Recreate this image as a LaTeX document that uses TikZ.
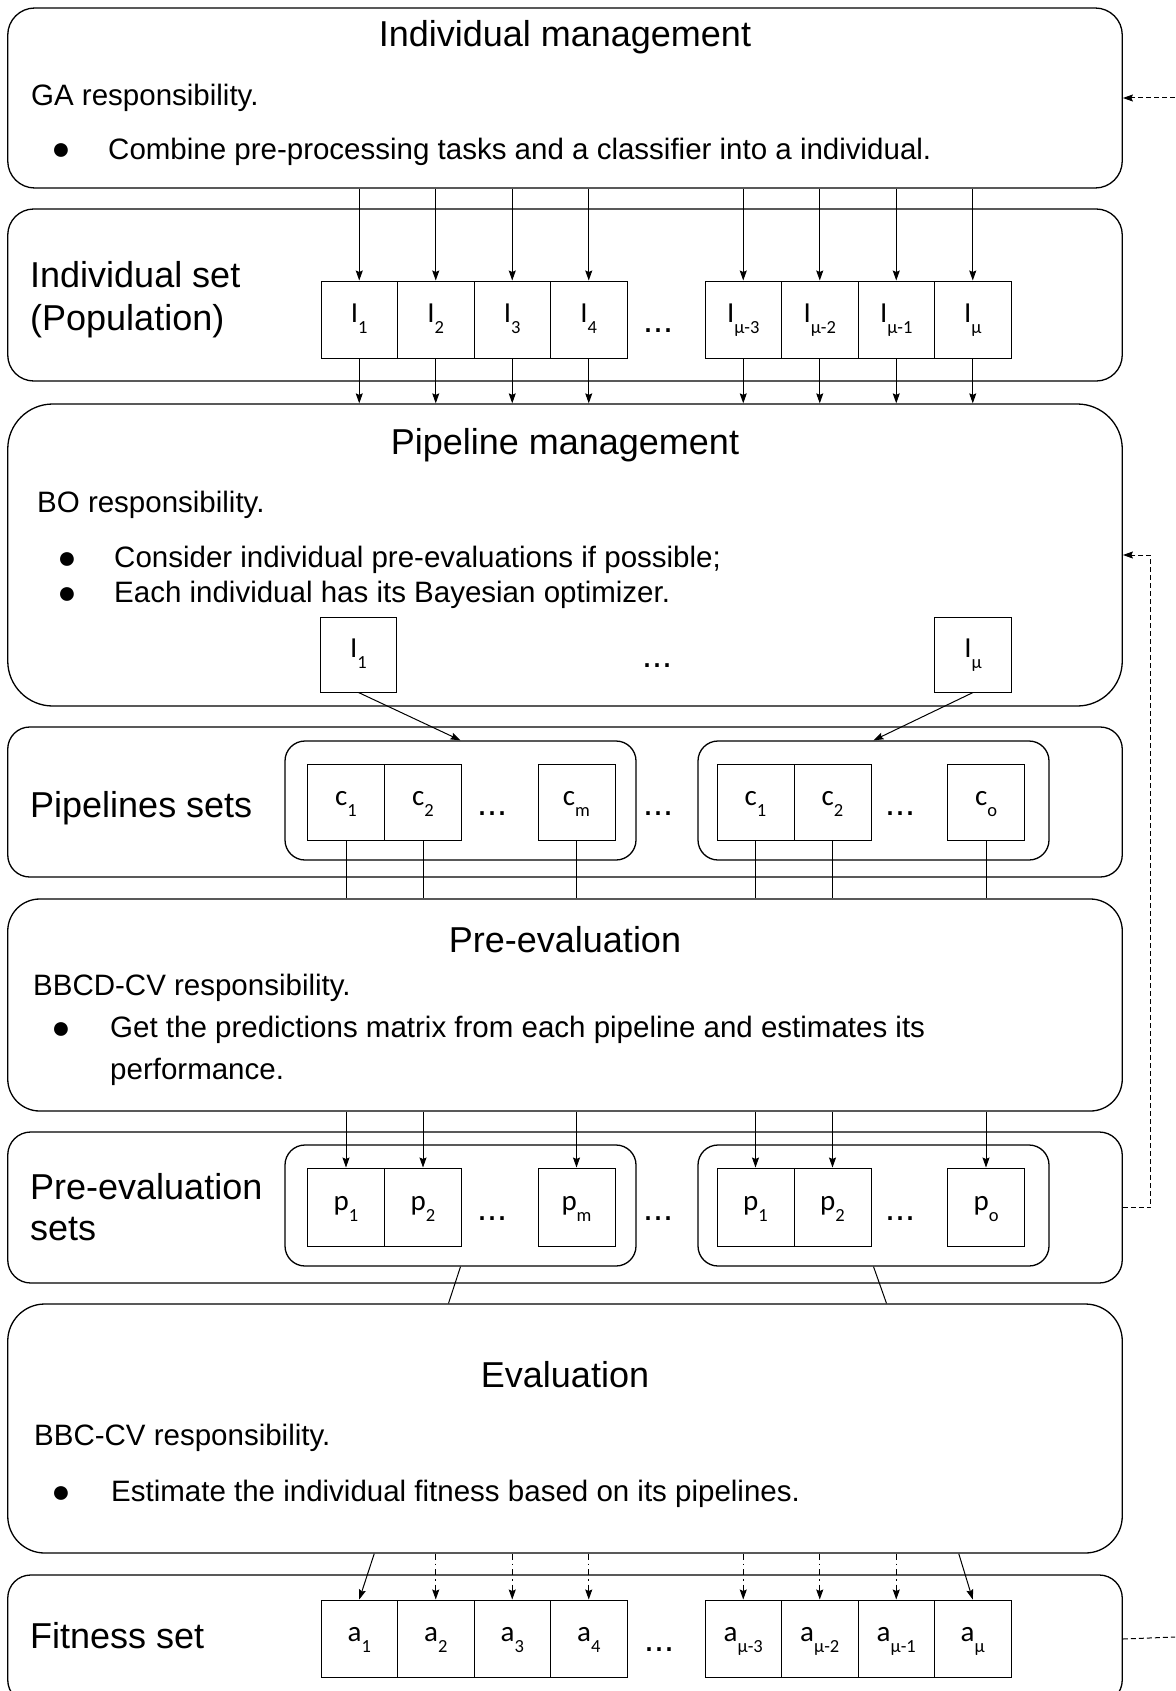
\documentclass[tikz,border=0pt]{standalone}
\usepackage{fontspec}
\setmainfont{Liberation Sans}
\newfontfamily\carlito{Carlito}
\usetikzlibrary{arrows.meta}
\def\midx{565}
\def\stagewidth{1114.5pt}
\def\cellwidth{76.5pt}
\newcommand{\cellsub}[2]{\raisebox{0pt}[20pt][14pt]{\carlito\fontsize{29}{29}\selectfont #1\raisebox{-11pt}{\fontsize{18.5}{18.5}\selectfont #2}}}

\begin{document}
\begin{tikzpicture}[x=1pt, y=-1pt,
    stage/.style={draw, line width=1.3pt, rounded corners=#1, minimum width=\stagewidth, inner sep=0pt},
    group/.style={draw, line width=1.3pt, rounded corners=20pt, minimum width=351pt, inner sep=0pt},
    cell/.style={draw, line width=1pt, minimum width=\cellwidth, minimum height=77pt, inner sep=0pt},
    title/.style={anchor=base, inner sep=0pt, font=\fontsize{36}{43}\selectfont},
    setname/.style={anchor=base west, inner sep=0pt, font=\fontsize{36}{43}\selectfont},
    body/.style={anchor=base west, inner sep=0pt, font=\fontsize{29.5}{35}\selectfont},
    bullet/.style={anchor=center, inner sep=0pt, font=\fontsize{32}{32}\selectfont},
    dots/.style={anchor=base, inner sep=0pt, font=\fontsize{36}{43}\selectfont},
    arr/.style={-{Stealth[length=10pt, width=7pt, inset=1.5pt]}, line width=1pt},
    link/.style={line width=1pt},
    dotarr/.style={arr, dash pattern=on 6pt off 4pt on 1.5pt off 4pt},
    fbarr/.style={arr, dash pattern=on 5pt off 3pt},
    fbline/.style={link, dash pattern=on 5pt off 3pt}]
    \useasboundingbox (0,0) rectangle (1175,1691);
    \fill[white] (0,0) rectangle (1175,1691);
    % stages
    \node[stage=27pt, minimum height=180pt] (IndMgmt) at (\midx, 98) {};
    \node[stage=26pt, minimum height=172pt] (IndSet) at (\midx, 295) {};
    \node[stage=45pt, minimum height=302pt] (PipeMgmt) at (\midx, 555) {};
    \node[stage=22pt, minimum height=150pt] (PipeSets) at (\midx, 802) {};
    \node[stage=32pt, minimum height=212pt] (PreEval) at (\midx, 1005) {};
    \node[stage=23pt, minimum height=151pt] (PreEvalSets) at (\midx, 1207.5) {};
    \node[stage=37pt, minimum height=249pt] (Eval) at (\midx, 1428.5) {};
    \node[stage=23pt, minimum height=128pt] (FitSet) at (\midx, 1639) {};
    % individual management
    \node[title] (IndMgmtTitle) at (\midx, 47) {Individual management};
    \node[body] (GAtxt) at (31, 106) {GA responsibility.};
    \node[bullet] (GAbul) at (61, 152) {●};
    \node[body] (GAitem) at (108, 159) {Combine pre-processing tasks and a classifier into a individual.};
    % individual set
    \node[setname] (IndSetName) at (30, 287) {Individual set};
    \node[setname] (IndSetPop) at (30, 330) {(Population)};
    \node[cell] (I1) at (359.25, 319.5) {\cellsub{I}{1}};
    \node[cell] (I2) at (435.75, 319.5) {\cellsub{I}{2}};
    \node[cell] (I3) at (512.25, 319.5) {\cellsub{I}{3}};
    \node[cell] (I4) at (588.75, 319.5) {\cellsub{I}{4}};
    \node[dots] (Idots) at (658, 332) {...};
    \node[cell] (Im3) at (743.25, 319.5) {\cellsub{I}{μ-3}};
    \node[cell] (Im2) at (819.75, 319.5) {\cellsub{I}{μ-2}};
    \node[cell] (Im1) at (896.25, 319.5) {\cellsub{I}{μ-1}};
    \node[cell] (Im) at (972.75, 319.5) {\cellsub{I}{μ}};
    \draw[arr] (IndMgmt.south -| I1) -- (I1);
    \draw[arr] (IndMgmt.south -| I2) -- (I2);
    \draw[arr] (IndMgmt.south -| I3) -- (I3);
    \draw[arr] (IndMgmt.south -| I4) -- (I4);
    \draw[arr] (IndMgmt.south -| Im3) -- (Im3);
    \draw[arr] (IndMgmt.south -| Im2) -- (Im2);
    \draw[arr] (IndMgmt.south -| Im1) -- (Im1);
    \draw[arr] (IndMgmt.south -| Im) -- (Im);
    \draw[arr] (I1) -- (I1 |- PipeMgmt.north);
    \draw[arr] (I2) -- (I2 |- PipeMgmt.north);
    \draw[arr] (I3) -- (I3 |- PipeMgmt.north);
    \draw[arr] (I4) -- (I4 |- PipeMgmt.north);
    \draw[arr] (Im3) -- (Im3 |- PipeMgmt.north);
    \draw[arr] (Im2) -- (Im2 |- PipeMgmt.north);
    \draw[arr] (Im1) -- (Im1 |- PipeMgmt.north);
    \draw[arr] (Im) -- (Im |- PipeMgmt.north);
    % pipeline management
    \node[title] (PipeMgmtTitle) at (\midx, 454) {Pipeline management};
    \node[body] (BOtxt) at (37, 512) {BO responsibility.};
    \node[bullet] (BObulA) at (67, 560.5) {●};
    \node[body] (BOitemA) at (114, 567) {Consider individual pre-evaluations if possible;};
    \node[bullet] (BObulB) at (67, 595.5) {●};
    \node[body] (BOitemB) at (114, 602) {Each individual has its Bayesian optimizer.};
    \node[cell, minimum height=75pt] (PI1) at (358.5, 654.5) {\cellsub{I}{1}};
    \node[dots] (PIdots) at (657, 667) {...};
    \node[cell, minimum height=75pt] (PIm) at (973, 654.5) {\cellsub{I}{μ}};
    % pipelines sets
    \node[setname] (PipeSetsName) at (30, 817) {Pipelines sets};
    \node[group, minimum height=119pt] (CG1) at (460.5, 800.5) {};
    \node[group, minimum height=119pt] (CG2) at (873.5, 800.5) {};
    \node[cell, minimum width=77pt, minimum height=76pt] (C11) at (346, 802) {\cellsub{c}{1}};
    \node[cell, minimum width=77pt, minimum height=76pt] (C12) at (423, 802) {\cellsub{c}{2}};
    \node[dots] (C1dots) at (492, 815) {...};
    \node[cell, minimum width=77pt, minimum height=76pt] (C1m) at (576.5, 802) {\cellsub{c}{m}};
    \node[dots] (Cdots) at (658, 815) {...};
    \node[cell, minimum width=77pt, minimum height=76pt] (C21) at (755.5, 802) {\cellsub{c}{1}};
    \node[cell, minimum width=77pt, minimum height=76pt] (C22) at (832.5, 802) {\cellsub{c}{2}};
    \node[dots] (C2dots) at (900, 815) {...};
    \node[cell, minimum width=77pt, minimum height=76pt] (C2o) at (986, 802) {\cellsub{c}{o}};
    \draw[arr] (PI1.south) -- (CG1.north);
    \draw[arr] (PIm.south) -- (CG2.north);
    \draw[link] (C11) -- (C11 |- PreEval.north);
    \draw[link] (C12) -- (C12 |- PreEval.north);
    \draw[link] (C1m) -- (C1m |- PreEval.north);
    \draw[link] (C21) -- (C21 |- PreEval.north);
    \draw[link] (C22) -- (C22 |- PreEval.north);
    \draw[link] (C2o) -- (C2o |- PreEval.north);
    % pre-evaluation
    \node[title] (PreEvalTitle) at (\midx, 952) {Pre-evaluation};
    \node[body] (BBCDtxt) at (33, 995) {BBCD-CV responsibility.};
    \node[bullet] (BBCDbul) at (61, 1030.5) {●};
    \node[body] (BBCDitem) at (110, 1037) {Get the predictions matrix from each pipeline and estimates its};
    \node[body] (BBCDitemB) at (110, 1079) {performance.};
    % pre-evaluation sets
    \node[setname] (PreEvalSetsName) at (30, 1199) {Pre-evaluation};
    \node[setname] (PreEvalSetsNameB) at (30, 1240) {sets};
    \node[group, minimum height=121pt] (PG1) at (460.5, 1205.5) {};
    \node[group, minimum height=121pt] (PG2) at (873.5, 1205.5) {};
    \node[cell, minimum width=77pt, minimum height=78pt] (P11) at (346, 1207) {\cellsub{p}{1}};
    \node[cell, minimum width=77pt, minimum height=78pt] (P12) at (423, 1207) {\cellsub{p}{2}};
    \node[dots] (P1dots) at (492, 1220) {...};
    \node[cell, minimum width=77pt, minimum height=78pt] (P1m) at (576.5, 1207) {\cellsub{p}{m}};
    \node[dots] (Pdots) at (658, 1220) {...};
    \node[cell, minimum width=77pt, minimum height=78pt] (P21) at (755.5, 1207) {\cellsub{p}{1}};
    \node[cell, minimum width=77pt, minimum height=78pt] (P22) at (832.5, 1207) {\cellsub{p}{2}};
    \node[dots] (P2dots) at (900, 1220) {...};
    \node[cell, minimum width=77pt, minimum height=78pt] (P2o) at (986, 1207) {\cellsub{p}{o}};
    \draw[arr] (PreEval.south -| P11) -- (P11);
    \draw[arr] (PreEval.south -| P12) -- (P12);
    \draw[arr] (PreEval.south -| P1m) -- (P1m);
    \draw[arr] (PreEval.south -| P21) -- (P21);
    \draw[arr] (PreEval.south -| P22) -- (P22);
    \draw[arr] (PreEval.south -| P2o) -- (P2o);
    \draw[link] (PG1.south) -- ([xshift=-12pt]PG1.south |- Eval.north);
    \draw[link] (PG2.south) -- ([xshift=13pt]PG2.south |- Eval.north);
    \draw[fbarr] (PreEvalSets.east) -- ++(28,0) |- (PipeMgmt.east);
    % evaluation
    \node[title] (EvalTitle) at (\midx, 1387) {Evaluation};
    \node[body] (BBCtxt) at (34, 1445) {BBC-CV responsibility.};
    \node[bullet] (BBCbul) at (61, 1494.5) {●};
    \node[body] (BBCitem) at (111, 1501) {Estimate the individual fitness based on its pipelines.};
    % fitness set
    \node[setname] (FitSetName) at (30, 1648) {Fitness set};
    \node[cell] (A1) at (359.25, 1638.5) {\cellsub{a}{1}};
    \node[cell] (A2) at (435.75, 1638.5) {\cellsub{a}{2}};
    \node[cell] (A3) at (512.25, 1638.5) {\cellsub{a}{3}};
    \node[cell] (A4) at (588.75, 1638.5) {\cellsub{a}{4}};
    \node[dots] (Adots) at (659, 1651) {...};
    \node[cell] (Am3) at (743.25, 1638.5) {\cellsub{a}{μ-3}};
    \node[cell] (Am2) at (819.75, 1638.5) {\cellsub{a}{μ-2}};
    \node[cell] (Am1) at (896.25, 1638.5) {\cellsub{a}{μ-1}};
    \node[cell] (Am) at (972.75, 1638.5) {\cellsub{a}{μ}};
    \draw[arr] ([xshift=15pt]A1.north |- Eval.south) -- (A1.north);
    \draw[dotarr] (Eval.south -| A2) -- (A2);
    \draw[dotarr] (Eval.south -| A3) -- (A3);
    \draw[dotarr] (Eval.south -| A4) -- (A4);
    \draw[dotarr] (Eval.south -| Am3) -- (Am3);
    \draw[dotarr] (Eval.south -| Am2) -- (Am2);
    \draw[dotarr] (Eval.south -| Am1) -- (Am1);
    \draw[arr] ([xshift=-14pt]Am.north |- Eval.south) -- (Am.north);
    % feedback ends
    \coordinate (fbIn) at (1175, 98);
    \coordinate (fbOut) at (1175, 1637);
    \draw[fbarr] (fbIn) -- (IndMgmt.east);
    \draw[fbline] (FitSet.east) -- (fbOut);
\end{tikzpicture}
\end{document}
